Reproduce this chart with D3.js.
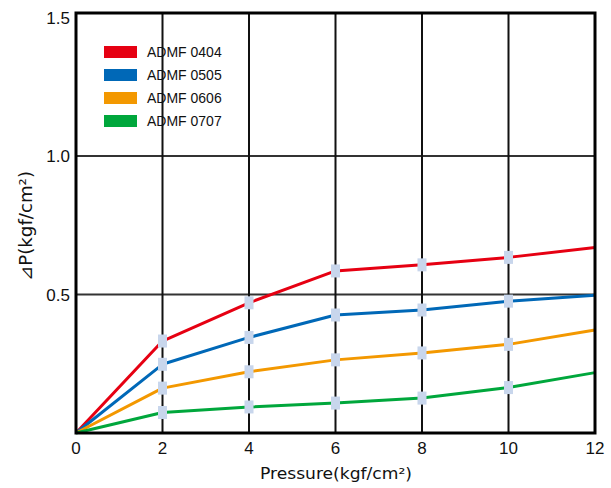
<!DOCTYPE html>
<html><head><meta charset="utf-8">
<script src="https://cdn.jsdelivr.net/npm/d3@7"></script>
<style>body{margin:0;background:#fff}svg{display:block}text{font-family:"Liberation Sans",Arial,sans-serif;fill:#111}</style>
</head><body>
<svg id="c" width="611" height="488"></svg>
<script>
const pressure = [0, 2, 4, 6, 8, 10, 12];
const seriesNames = ["ADMF 0404", "ADMF 0505", "ADMF 0606", "ADMF 0707"];
const colors = ["#e60012", "#0068b7", "#f39800", "#00a73c"];
const admf0404 = [0, 0.332, 0.47, 0.585, 0.607, 0.634, 0.67];
const admf0505 = [0, 0.248, 0.345, 0.426, 0.444, 0.476, 0.497];
const admf0606 = [0, 0.162, 0.221, 0.264, 0.289, 0.32, 0.372];
const admf0707 = [0, 0.074, 0.094, 0.108, 0.126, 0.164, 0.218];
const seriesValues = [admf0404, admf0505, admf0606, admf0707];
const xTicks = [0, 2, 4, 6, 8, 10, 12];
const yTicks = [0.5, 1.0, 1.5];
const yTickLabels = ["0.5", "1.0", "1.5"];

const svg = d3.select("#c");
const L = 76, R = 595, T = 13, B = 433;
const x = d3.scaleLinear().domain([0, 12]).range([L, R]);
const y = d3.scaleLinear().domain([0, 1.5]).range([B, 17.5]);

// grid
const g = svg.append("g");
g.selectAll("line.h").data([0.5, 1.0]).join("line")
  .attr("x1", L).attr("x2", R).attr("y1", d => y(d)).attr("y2", d => y(d))
  .attr("stroke", "#333").attr("stroke-width", 2);
g.selectAll("line.v").data([2, 4, 6, 8, 10]).join("line")
  .attr("x1", d => x(d)).attr("x2", d => x(d)).attr("y1", T).attr("y2", B)
  .attr("stroke", "#111").attr("stroke-width", 2);

// lines
const line = d3.line().x((d, i) => x(pressure[i])).y(d => y(d));
seriesValues.forEach((vals, si) => {
  svg.append("path").datum(vals).attr("d", line)
    .attr("fill", "none").attr("stroke", colors[si]).attr("stroke-width", 3)
    .attr("stroke-linejoin", "round");
});
// markers
seriesValues.forEach((vals, si) => {
  svg.append("g").selectAll("rect").data(vals.map((v, i) => [pressure[i], v]).filter(d => d[0] > 0 && d[0] < 12))
    .join("rect")
    .attr("x", d => x(d[0]) - 4.5).attr("y", d => y(d[1]) - 6.5)
    .attr("width", 9).attr("height", 13).attr("fill", "#c8d6ec");
});

// frame
svg.append("rect").attr("x", L).attr("y", T).attr("width", R - L).attr("height", B - T)
  .attr("fill", "none").attr("stroke", "#000").attr("stroke-width", 3);

// tick labels
svg.append("g").selectAll("text").data(xTicks).join("text")
  .attr("x", d => x(d)).attr("y", 454).attr("text-anchor", "middle")
  .attr("font-size", 17).text(d => d);
svg.append("g").selectAll("text").data(yTicks).join("text")
  .attr("x", 70).attr("y", d => Math.max(y(d) + 6, 17)).attr("text-anchor", "end")
  .attr("font-size", 17).text((d, i) => yTickLabels[i]);

// axis titles
svg.append("text").attr("x", 336).attr("y", 479).attr("text-anchor", "middle")
  .style("font-family", "'DejaVu Sans'").attr("font-size", 16)
  .attr("textLength", 152).attr("lengthAdjust", "spacingAndGlyphs")
  .text("Pressure(kgf/cm²)");
svg.append("text").attr("transform", "translate(32,226) rotate(-90)")
  .attr("text-anchor", "middle").style("font-family", "'DejaVu Sans'").attr("font-size", 17)
  .attr("textLength", 110).attr("lengthAdjust", "spacingAndGlyphs")
  .text("⊿P(kgf/cm²)");

// legend
const lg = svg.append("g");
seriesNames.forEach((n, i) => {
  const yy = 46 + i * 23;
  lg.append("rect").attr("x", 104).attr("y", yy).attr("width", 33).attr("height", 12).attr("fill", colors[i]);
  lg.append("text").attr("x", 147).attr("y", yy + 11)
    .attr("font-size", 14).text(n);
});
</script>
</body></html>
